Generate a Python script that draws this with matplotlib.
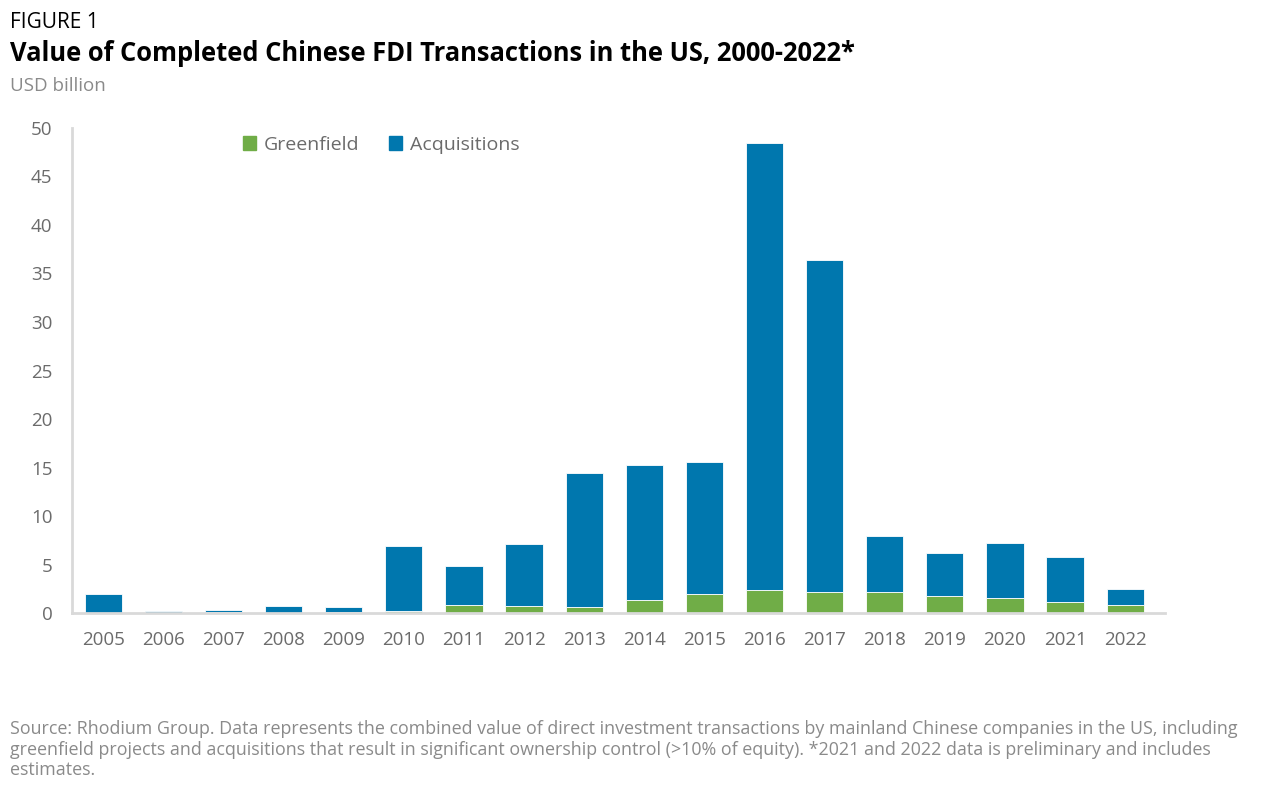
import numpy as np
import matplotlib.pyplot as plt
from matplotlib.patches import Patch

# データ
years = ['2005', '2006', '2007', '2008', '2009', '2010', '2011', '2012', '2013',
         '2014', '2015', '2016', '2017', '2018', '2019', '2020', '2021', '2022']
greenfield = [0.0, 0.05, 0.1, 0.05, 0.1, 0.25, 0.8, 0.7, 0.65,
              1.3, 2.0, 2.4, 2.2, 2.2, 1.8, 1.6, 1.1, 0.8]
total = [2.0, 0.2, 0.3, 0.7, 0.6, 6.9, 4.85, 7.1, 14.4,
         15.3, 15.6, 48.5, 36.4, 7.9, 6.2, 7.2, 5.8, 2.5]
acquisitions = [t - g for t, g in zip(total, greenfield)]

GREEN = '#70ad47'
BLUE = '#0077ae'
GRAY = '#6b6b6b'

plt.rcParams['font.family'] = ['Open Sans', 'DejaVu Sans']

fig = plt.figure(figsize=(12.64, 7.9), dpi=100)
ax = fig.add_axes([0.057, 0.224, 0.865, 0.614])

x = np.arange(len(years))
w = 0.62
ax.bar(x, greenfield, w, color=GREEN, edgecolor='white', linewidth=0.6)
ax.bar(x, acquisitions, w, bottom=greenfield, color=BLUE, edgecolor='white', linewidth=0.6)

ax.set_xlim(-0.52, 17.67)
ax.set_ylim(0, 50)
ax.set_yticks(range(0, 51, 5))
ax.set_xticks(x)
ax.set_xticklabels(years)
ax.tick_params(axis='both', length=0, labelsize=13.5, labelcolor=GRAY)
ax.tick_params(axis='x', pad=13)
ax.tick_params(axis='y', pad=14)
for s in ['top', 'right']:
    ax.spines[s].set_visible(False)
for s in ['left', 'bottom']:
    ax.spines[s].set_color('#d9d9d9')
    ax.spines[s].set_linewidth(2)

handles = [Patch(color=GREEN, label='Greenfield'), Patch(color=BLUE, label='Acquisitions')]
ax.legend(handles=handles, ncol=2, frameon=False, fontsize=14, labelcolor=GRAY,
          handlelength=0.7, handleheight=0.7, handletextpad=0.4, columnspacing=1.5,
          loc='upper left', bbox_to_anchor=(0.14, 1.02))

fig.text(0.008, 0.972, 'FIGURE 1', fontsize=15, color='black', va='center')
fig.text(0.008, 0.932, 'Value of Completed Chinese FDI Transactions in the US, 2000-2022*',
         fontsize=18.4, fontweight='bold', color='black', va='center')
fig.text(0.008, 0.891, 'USD billion', fontsize=13.5, color='#8a8a8a', va='center')

src = ('Source: Rhodium Group. Data represents the combined value of direct investment transactions by mainland Chinese companies in the US, including\n'
       'greenfield projects and acquisitions that result in significant ownership control (>10% of equity). *2021 and 2022 data is preliminary and includes\n'
       'estimates.')
fig.text(0.008, 0.088, src, fontsize=12.9, color='#8a8a8a', va='top', linespacing=1.15)

plt.savefig('out.png', dpi=100)
plt.close()
